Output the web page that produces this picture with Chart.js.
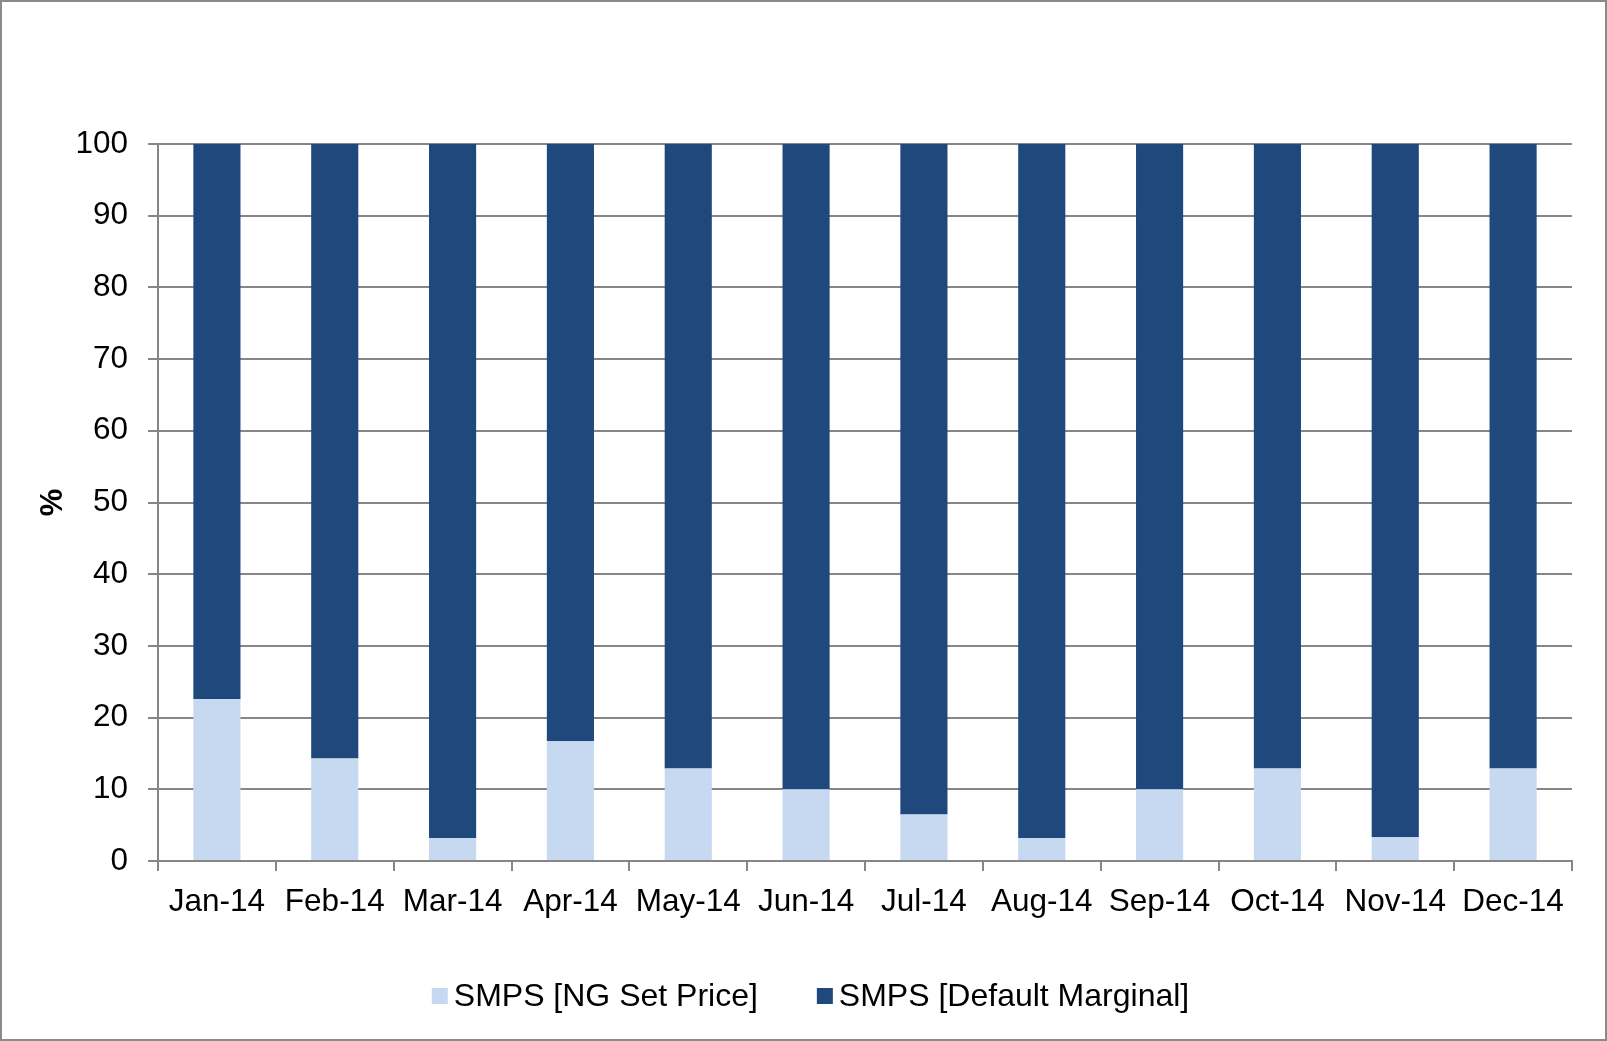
<!DOCTYPE html>
<html>
<head>
<meta charset="utf-8">
<script src="https://cdn.jsdelivr.net/npm/chart.js@4.4.1/dist/chart.umd.min.js"></script>
<style>
  html, body { margin: 0; padding: 0; background: #fff; }
  #wrap { width: 1607px; height: 1041px; position: relative; }
</style>
</head>
<body>
<div id="wrap"><canvas id="smpsChart" width="1607" height="1041"></canvas></div>
<script>
// データ
const months = ['Jan-14', 'Feb-14', 'Mar-14', 'Apr-14', 'May-14', 'Jun-14', 'Jul-14', 'Aug-14', 'Sep-14', 'Oct-14', 'Nov-14', 'Dec-14'];
const ngSetPrice = [22.6, 14.3, 3.2, 16.7, 12.9, 10.0, 6.5, 3.2, 10.0, 12.9, 3.3, 12.9];
const defaultMarginal = [77.4, 85.7, 96.8, 83.3, 87.1, 90.0, 93.5, 96.8, 90.0, 87.1, 96.7, 87.1];
const yTicks = [0, 10, 20, 30, 40, 50, 60, 70, 80, 90, 100];

const FONT = '"Liberation Sans", Arial, sans-serif';
const GRID = '#868686';

// 外枠
const frame = {
    id: 'frame',
    beforeDraw(chart) {
        const c = chart.ctx;
        c.save();
        c.fillStyle = '#fff';
        c.fillRect(0, 0, chart.width, chart.height);
        c.strokeStyle = '#8a8a8a';
        c.lineWidth = 2;
        c.strokeRect(1, 1, chart.width - 2, chart.height - 2);
        c.restore();
    }
};

// 凡例 (自前描画)
const legendRow = {
    id: 'legendRow',
    afterDraw(chart) {
        const c = chart.ctx;
        const box = 16, gap = 6, itemGap = 59, y = 996;
        c.save();
        c.font = '32px ' + FONT;
        c.textBaseline = 'middle';
        const items = chart.data.datasets.map(ds => ({ text: ds.label, color: ds.backgroundColor, w: c.measureText(ds.label).width }));
        let total = items.reduce((s, it) => s + box + gap + it.w, 0) + itemGap * (items.length - 1);
        let x = chart.width / 2 + 7 - total / 2;
        items.forEach(it => {
            c.fillStyle = it.color;
            c.fillRect(x, y - 8, box, box);
            c.fillStyle = '#000';
            c.fillText(it.text, x + box + gap, y + 1);
            x += box + gap + it.w + itemGap;
        });
        c.restore();
    }
};

const ctx = document.getElementById('smpsChart').getContext('2d');
new Chart(ctx, {
    type: 'bar',
    data: {
        labels: months,
        datasets: [
            { label: 'SMPS [NG Set Price]', data: ngSetPrice, backgroundColor: '#c6d9f0', barPercentage: 0.4, categoryPercentage: 1.0 },
            { label: 'SMPS [Default Marginal]', data: defaultMarginal, backgroundColor: '#1f497d', barPercentage: 0.4, categoryPercentage: 1.0 }
        ]
    },
    options: {
        responsive: false,
        animation: false,
        devicePixelRatio: 1,
        layout: { padding: { top: 144, right: 35, bottom: 120, left: 0 } },
        plugins: { legend: { display: false }, tooltip: { enabled: false } },
        scales: {
            x: {
                stacked: true,
                grid: { offset: true, drawOnChartArea: false, drawTicks: true, tickLength: 10, color: GRID, lineWidth: 2 },
                border: { color: GRID, width: 2 },
                ticks: { color: '#000', font: { family: FONT, size: 31.5 }, padding: 12, maxRotation: 0, autoSkip: false },
                afterFit(scale) { scale.height = 60; }
            },
            y: {
                stacked: true,
                min: 0, max: 100,
                afterBuildTicks(scale) { scale.ticks = yTicks.map(v => ({ value: v })); },
                grid: { color: GRID, lineWidth: 2, tickLength: 10 },
                border: { color: GRID, width: 2 },
                ticks: { color: '#000', font: { family: FONT, size: 31.5 }, padding: 20 },
                title: { display: true, text: '%', color: '#000', font: { family: FONT, size: 31, weight: 'bold' }, padding: { top: 35, bottom: 0 } },
                afterFit(scale) { scale.width = 158; }
            }
        }
    },
    plugins: [frame, legendRow]
});
</script>
</body>
</html>
